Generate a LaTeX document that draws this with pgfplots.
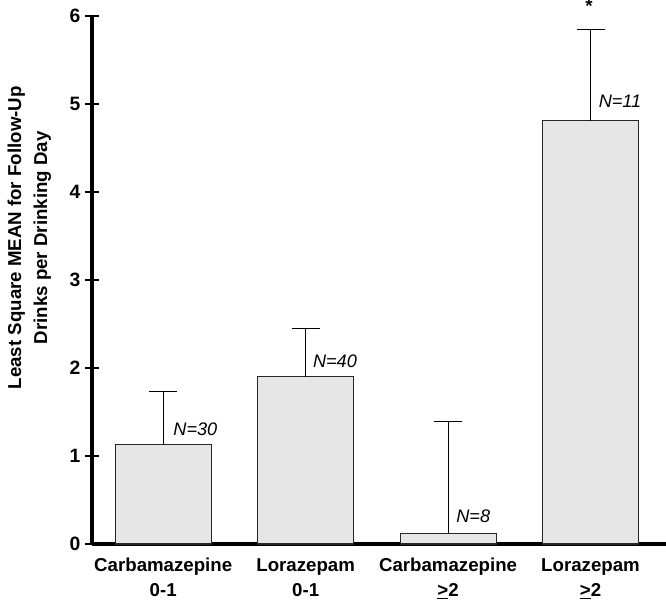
\documentclass[border=0pt]{standalone}
\usepackage{pgfplots}
\pgfplotsset{compat=1.18}
\usepackage{fontspec}
\setmainfont{Liberation Sans}
\definecolor{barfill}{RGB}{230,230,230}
\begin{document}
\begin{tikzpicture}
\begin{axis}[
    scale only axis,
    width=430.5pt, height=396pt,
    ybar, bar width=72pt,
    xmin=-0.5, xmax=3.53,
    ymin=0, ymax=6,
    enlargelimits=false,
    clip=false,
    axis x line=bottom, axis y line=left,
    axis line style={-, line width=2.4pt},
    xtick={0,1,2,3},
    xticklabels={Carbamazepine\\0-1, Lorazepam\\0-1, Carbamazepine\\\underline{>}2, Lorazepam\\\underline{>}2},
    x tick style={draw=none},
    xticklabel style={align=center, yshift=-2pt, font=\fontsize{14pt}{18.7pt}\selectfont\bfseries},
    ytick={0,1,2,3,4,5,6},
    y tick style={line width=2.2pt, black},
    major tick length=10.5pt,
    tick align=center,
    yticklabel style={font=\fontsize{14.5pt}{17pt}\selectfont\bfseries, /pgf/number format/assume math mode=true},
    ylabel={Least Square MEAN for Follow-Up\\Drinks per Drinking Day},
    ylabel style={align=center, font=\fontsize{14pt}{19.5pt}\selectfont\bfseries,
        at={(axis description cs:-0.109,0.58)}, anchor=center},
]
\addplot[fill=barfill, draw=black!85, line width=0.8pt,
    error bars/.cd, y dir=plus, y explicit,
    error bar style={line width=0.8pt, black},
    error mark options={rotate=90, line width=0.8pt, black, mark size=10.5pt}]
coordinates {
    (0,1.13) +- (0,0.60)
    (1,1.90) +- (0,0.55)
    (2,0.12) +- (0,1.27)
    (3,4.81) +- (0,1.04)
};
\node[anchor=west, font=\fontsize{13.6pt}{16pt}\selectfont\itshape, inner sep=0pt] at (axis cs:0.07,1.30) {N=30};
\node[anchor=west, font=\fontsize{13.6pt}{16pt}\selectfont\itshape, inner sep=0pt] at (axis cs:1.05,2.08) {N=40};
\node[anchor=west, font=\fontsize{13.6pt}{16pt}\selectfont\itshape, inner sep=0pt] at (axis cs:2.056,0.32) {N=8};
\node[anchor=west, font=\fontsize{13.6pt}{16pt}\selectfont\itshape, inner sep=0pt] at (axis cs:3.056,5.03) {N=11};
\node[font=\fontsize{14pt}{16pt}\selectfont\bfseries, inner sep=0pt] at (axis cs:2.99,6.11) {*};
\end{axis}
\pgfresetboundingbox
\path ([xshift=-69pt,yshift=-43.5pt]current axis.south west) rectangle ([yshift=12pt]current axis.north east);
\end{tikzpicture}
\end{document}
